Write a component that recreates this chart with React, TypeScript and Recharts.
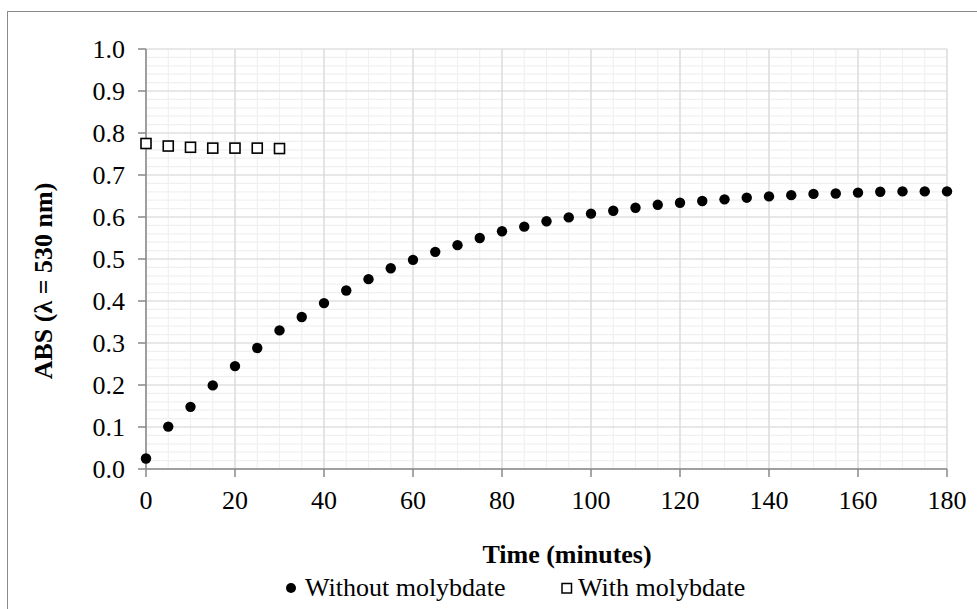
import { CartesianGrid, Scatter, ScatterChart, XAxis, YAxis } from "recharts";

const TIME = [
  0, 5, 10, 15, 20, 25, 30, 35, 40, 45, 50, 55, 60, 65, 70, 75, 80, 85, 90,
  95, 100, 105, 110, 115, 120, 125, 130, 135, 140, 145, 150, 155, 160, 165,
  170, 175, 180,
];
const WITHOUT_MOLY = [
  0.025, 0.101, 0.148, 0.199, 0.245, 0.288, 0.33, 0.362, 0.395, 0.425, 0.452,
  0.478, 0.498, 0.517, 0.533, 0.55, 0.566, 0.577, 0.59, 0.599, 0.608, 0.615,
  0.622, 0.629, 0.634, 0.638, 0.642, 0.646, 0.649, 0.652, 0.655, 0.656, 0.658,
  0.66, 0.661, 0.661, 0.661,
];
const WITH_TIME = [0, 5, 10, 15, 20, 25, 30];
const WITH_MOLY = [0.775, 0.769, 0.766, 0.764, 0.764, 0.764, 0.763];

const X_TICKS = [0, 20, 40, 60, 80, 100, 120, 140, 160, 180];
const Y_TICKS = [0, 0.1, 0.2, 0.3, 0.4, 0.5, 0.6, 0.7, 0.8, 0.9, 1.0];
// minor gridlines: every 5 minutes / every 0.02 ABS
const MINOR_X = Array.from({ length: 37 }, (_, i) => i * 5);
const MINOR_Y = Array.from({ length: 51 }, (_, i) => i * 0.02);

const withoutData = TIME.map((t, i) => ({ t, abs: WITHOUT_MOLY[i] }));
const withData = WITH_TIME.map((t, i) => ({ t, abs: WITH_MOLY[i] }));

const FONT = "Liberation Serif";
const AXIS = "#898989";

const W = 977;
const H = 609;

const Dot = (p: any) => <circle cx={p.cx} cy={p.cy} r={5.2} fill="#000" />;
const Box = (p: any) => (
  <rect x={p.cx - 5} y={p.cy - 5} width={10} height={10} fill="#fff" stroke="#000" strokeWidth={1.6} />
);

const XTick = (p: any) => (
  <text x={p.x} y={p.y} dy="0.71em" textAnchor="middle" fontFamily={FONT} fontSize={26} fill="#000">
    {p.payload.value}
  </text>
);
const YTick = (p: any) => (
  <text x={p.x} y={p.y} dy="0.34em" textAnchor="end" fontFamily={FONT} fontSize={26} fill="#000">
    {Number(p.payload.value).toFixed(1)}
  </text>
);

const scaleOf = (axis: any) => {
  const s = axis && axis.scale;
  if (typeof s === "function") return s;
  if (s && typeof s.map === "function") return (v: number) => s.map(v);
  return null;
};

export default function App() {
  return (
    <div style={{ position: "absolute", left: 0, top: 0, width: W, height: H, overflow: "hidden", background: "#fff" }}>
      <div style={{ position: "absolute", left: 7, top: 11, width: 1100, height: 800, border: "1.5px solid #8a8a8a" }} />
      <div style={{ position: "absolute", left: 0, top: 0 }}>
        <ScatterChart width={W} height={H} margin={{ top: 49, right: 30, bottom: 110, left: 86 }}>
          <CartesianGrid
            stroke="#f0f0f0"
            strokeWidth={1.2}
            verticalCoordinatesGenerator={(p: any) => {
              const sc = scaleOf(p.xAxis);
              return sc
                ? MINOR_X.map((v) => sc(v))
                : MINOR_X.map((v) => p.offset.left + (v / 180) * p.offset.width);
            }}
            horizontalCoordinatesGenerator={(p: any) => {
              const sc = scaleOf(p.yAxis);
              return sc
                ? MINOR_Y.map((v) => sc(v))
                : MINOR_Y.map((v) => p.offset.top + (1 - v) * p.offset.height);
            }}
          />
          <CartesianGrid stroke="#d9d9d9" strokeWidth={1.2} />
          <XAxis
            type="number"
            dataKey="t"
            domain={[0, 180]}
            ticks={X_TICKS}
            interval={0}
            height={30}
            tick={XTick}
            tickSize={8}
            tickMargin={14}
            axisLine={{ stroke: AXIS, strokeWidth: 1.5 }}
            tickLine={{ stroke: AXIS, strokeWidth: 1.5 }}
          />
          <YAxis
            type="number"
            dataKey="abs"
            domain={[0, 1]}
            ticks={Y_TICKS}
            interval={0}
            width={60}
            tick={YTick}
            tickSize={8}
            tickMargin={13}
            axisLine={{ stroke: AXIS, strokeWidth: 1.5 }}
            tickLine={{ stroke: AXIS, strokeWidth: 1.5 }}
          />
          <Scatter name="Without molybdate" data={withoutData} shape={Dot} isAnimationActive={false} />
          <Scatter name="With molybdate" data={withData} shape={Box} isAnimationActive={false} />
        </ScatterChart>
      </div>
      <svg width={W} height={H} style={{ position: "absolute", left: 0, top: 0, pointerEvents: "none" }}>
        <text x={567} y={563} textAnchor="middle" fontFamily={FONT} fontSize={26} fontWeight="bold">
          Time (minutes)
        </text>
        <text
          transform="translate(52,281) rotate(-90)"
          textAnchor="middle"
          fontFamily={FONT}
          fontSize={26}
          fontWeight="bold"
        >
          ABS (λ = 530 nm)
        </text>
        <circle cx={291} cy={588} r={5} fill="#000" />
        <text x={305} y={596} fontFamily={FONT} fontSize={26}>
          Without molybdate
        </text>
        <rect x={562} y={583.5} width={9.5} height={9.5} fill="#fff" stroke="#000" strokeWidth={1.5} />
        <text x={578} y={596} fontFamily={FONT} fontSize={26}>
          With molybdate
        </text>
      </svg>
    </div>
  );
}
